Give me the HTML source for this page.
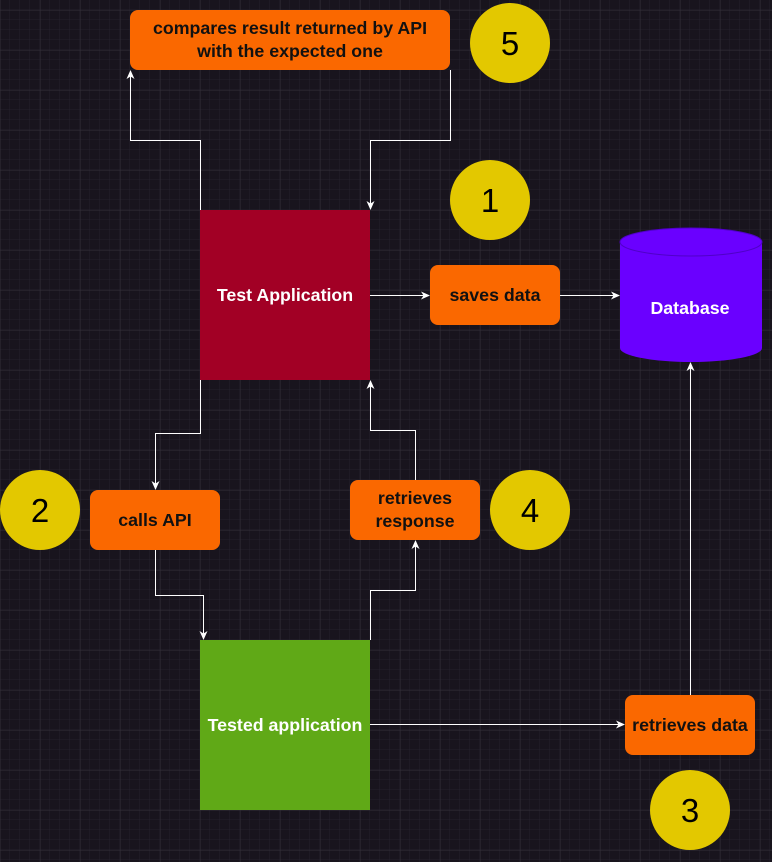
<!DOCTYPE html>
<html><head><style>
html,body{margin:0;padding:0;background:#18141d;}
svg{display:block;font-family:"Liberation Sans",Arial,sans-serif;}
</style></head><body>
<svg width="772" height="862" viewBox="0 0 772 862" xmlns="http://www.w3.org/2000/svg">
<defs>
<pattern id="minor" width="10" height="10" patternUnits="userSpaceOnUse" x="0" y="0">
<path d="M10 0V10M0 10H10" stroke="#24212b" stroke-width="1" fill="none"/>
</pattern>
<pattern id="major" width="40" height="40" patternUnits="userSpaceOnUse" x="0.5" y="10.5">
<path d="M0 0V40M0 0H40" stroke="#322e38" stroke-width="1" fill="none"/>
</pattern>
<marker id="a" markerWidth="10" markerHeight="10" refX="8" refY="5" orient="auto" markerUnits="userSpaceOnUse">
<path d="M0 1 L9 5 L0 9 L2.5 5 Z" fill="#fff"/>
</marker>
</defs>
<rect width="772" height="862" fill="#18141d"/>
<rect width="772" height="862" fill="url(#minor)"/>
<rect width="772" height="862" fill="url(#major)"/>

<g stroke="#fff" stroke-width="1" fill="none">
<path d="M200.5 210V140.5H130.5V71" marker-end="url(#a)"/>
<path d="M450.5 70V140.5H370.5V209" marker-end="url(#a)"/>
<path d="M370 295.5H429" marker-end="url(#a)"/>
<path d="M560 295.5H619" marker-end="url(#a)"/>
<path d="M200.5 380V433.5H155.5V489" marker-end="url(#a)"/>
<path d="M155.5 550V595.5H203.5V639" marker-end="url(#a)"/>
<path d="M370.5 640V590.5H415.5V541" marker-end="url(#a)"/>
<path d="M415.5 480V430.5H370.5V381" marker-end="url(#a)"/>
<path d="M370 724.5H624" marker-end="url(#a)"/>
<path d="M690.5 695V363" marker-end="url(#a)"/>
</g>

<g fill="#fa6800">
<rect x="130" y="10" width="320" height="60" rx="8"/>
<rect x="430" y="265" width="130" height="60" rx="8"/>
<rect x="90" y="490" width="130" height="60" rx="8"/>
<rect x="350" y="480" width="130" height="60" rx="8"/>
<rect x="625" y="695" width="130" height="60" rx="8"/>
</g>
<rect x="200" y="210" width="170" height="170" fill="#a20025"/>
<rect x="200" y="640" width="170" height="170" fill="#60a917"/>

<path d="M620 242 V348 A71 14 0 0 0 762 348 V242 Z" fill="#6a00ff"/>
<ellipse cx="691" cy="242" rx="71" ry="14" fill="#6a00ff" stroke="#5000c8" stroke-width="1"/>

<g fill="#e3c800">
<circle cx="510" cy="43" r="40"/>
<circle cx="490" cy="200" r="40"/>
<circle cx="40" cy="510" r="40"/>
<circle cx="530" cy="510" r="40"/>
<circle cx="690" cy="810" r="40"/>
</g>
<g font-size="33" fill="#000" text-anchor="middle">
<text x="510" y="55">5</text>
<text x="490" y="212">1</text>
<text x="40" y="522">2</text>
<text x="530" y="522">4</text>
<text x="690" y="822">3</text>
</g>
<g font-size="17.8" font-weight="bold" text-anchor="middle" fill="#111">
<text x="290" y="34">compares result returned by API</text>
<text x="290" y="57">with the expected one</text>
<text x="495" y="301">saves data</text>
<text x="155" y="526">calls API</text>
<text x="415" y="504">retrieves</text>
<text x="415" y="527">response</text>
<text x="690" y="731">retrieves data</text>
</g>
<g font-size="17.8" font-weight="bold" text-anchor="middle" fill="#fff">
<text x="285" y="301">Test Application</text>
<text x="285" y="731">Tested application</text>
<text x="690" y="314">Database</text>
</g>
</svg>
</body></html>
